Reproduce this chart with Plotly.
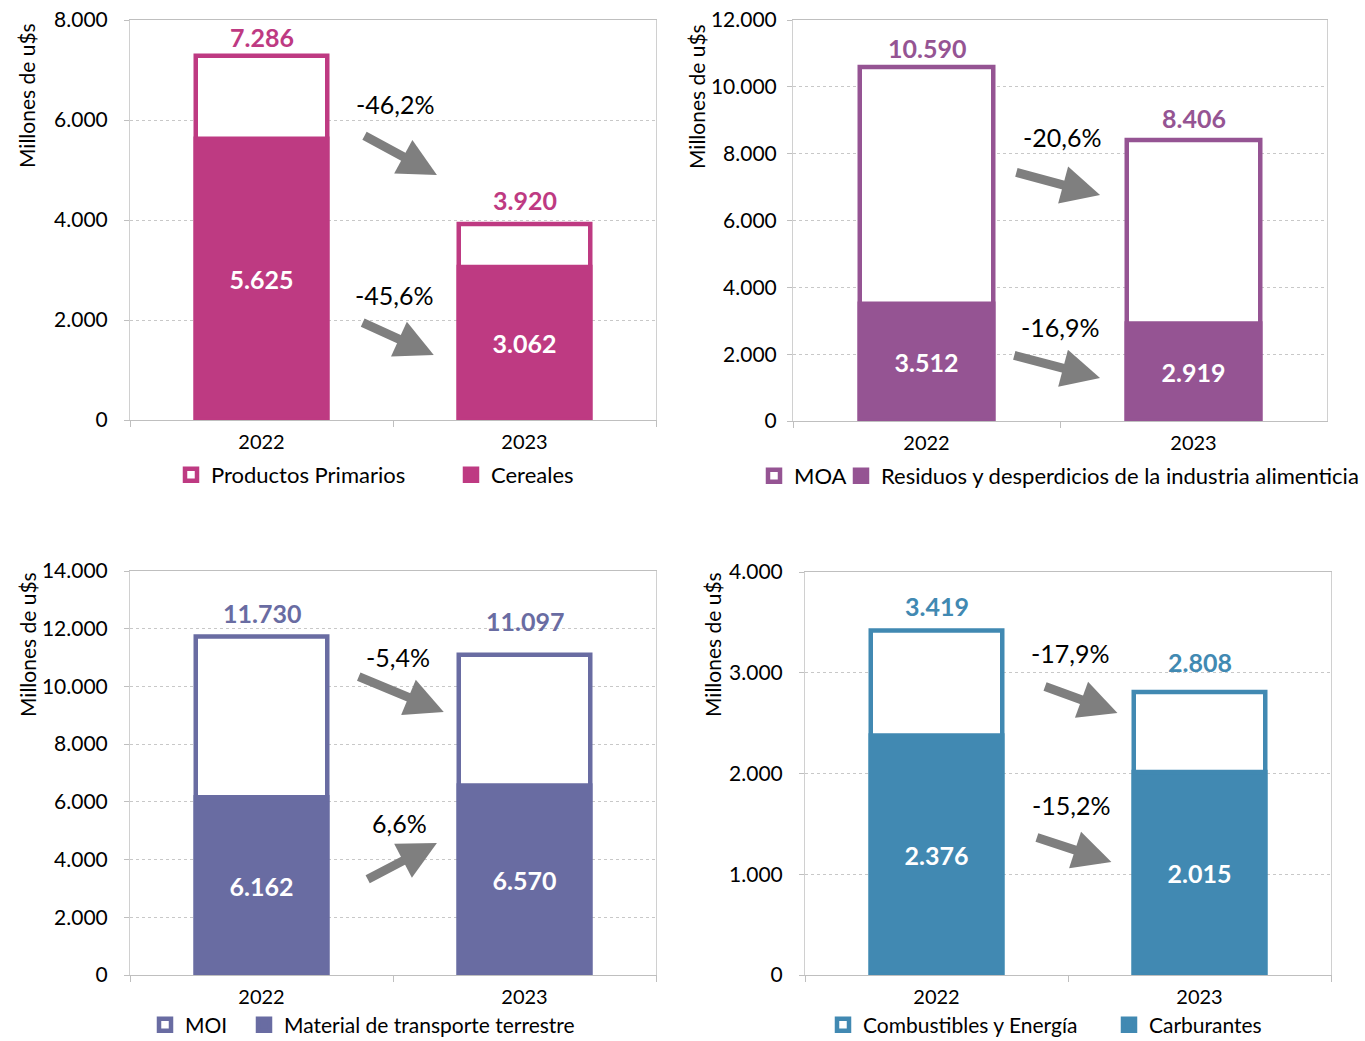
import plotly.graph_objects as go

years = ["2022", "2023"]

# Panel 1
p1_total_name = "Productos Primarios"
p1_sub_name = "Cereales"
p1_total = [7286, 3920]
p1_sub = [5625, 3062]
p1_pct_total = "-46,2%"
p1_pct_sub = "-45,6%"

# Panel 2
p2_total_name = "MOA"
p2_sub_name = "Residuos y desperdicios de la industria alimenticia"
p2_total = [10590, 8406]
p2_sub = [3512, 2919]
p2_pct_total = "-20,6%"
p2_pct_sub = "-16,9%"

# Panel 3
p3_total_name = "MOI"
p3_sub_name = "Material de transporte terrestre"
p3_total = [11730, 11097]
p3_sub = [6162, 6570]
p3_pct_total = "-5,4%"
p3_pct_sub = "6,6%"

# Panel 4
p4_total_name = "Combustibles y Energía"
p4_sub_name = "Carburantes"
p4_total = [3419, 2808]
p4_sub = [2376, 2015]
p4_pct_total = "-17,9%"
p4_pct_sub = "-15,2%"

y_title = "Millones de u$s"

FONT = "Lato"
W, H = 1365, 1041


def fmt(v):
    return f"{v:,}".replace(",", ".")


panels = [
    dict(total=p1_total, sub=p1_sub, tn=p1_total_name, sn=p1_sub_name, color="#BE3A82",
         ymax=8000, dtick=2000, px=(130, 656), py=(20, 420), standoff=12,
         pt=p1_pct_total, ps=p1_pct_sub,
         arrows=[((0.386, 5700), (0.667, 4900)), ((0.379, 1960), (0.655, 1300))],
         labels=[(0.511, 6320), (0.504, 2500)],
         tshift=[19, 24], legsize=22,
         title_c=(27, 96), legs=[(190, 475), (470, 475)]),
    dict(total=p2_total, sub=p2_sub, tn=p2_total_name, sn=p2_sub_name, color="#955493",
         ymax=12000, dtick=2000, px=(793, 1327), py=(20, 421), standoff=6,
         pt=p2_pct_total, ps=p2_pct_sub,
         arrows=[((0.331, 7453), (0.65, 6764)), ((0.323, 1975), (0.65, 1287))],
         labels=[(0.51, 8500), (0.502, 2813)],
         tshift=[19, 22], legsize=22,
         title_c=(696, 97), legs=[(773, 476), (860, 476)]),
    dict(total=p3_total, sub=p3_sub, tn=p3_total_name, sn=p3_sub_name, color="#696CA2",
         ymax=14000, dtick=2000, px=(130, 656), py=(571, 975), standoff=12,
         pt=p3_pct_total, ps=p3_pct_sub,
         arrows=[((0.364, 10360), (0.693, 9113)), ((0.398, 3292), (0.667, 4574))],
         labels=[(0.519, 11019), (0.523, 5267)],
         tshift=[24, 34], legsize=21,
         title_c=(27, 645), legs=[(164, 1025), (263, 1025)]),
    dict(total=p4_total, sub=p4_sub, tn=p4_total_name, sn=p4_sub_name, color="#4189B2",
         ymax=4000, dtick=1000, px=(805, 1331), py=(572, 975), standoff=12,
         pt=p4_pct_total, ps=p4_pct_sub,
         arrows=[((0.407, 2869), (0.688, 2601)), ((0.376, 1370), (0.665, 1122))],
         labels=[(0.51, 3196), (0.513, 1687)],
         tshift=[25, 30], legsize=21,
         title_c=(712, 645), legs=[(842, 1025), (1128, 1025)]),
]

fig = go.Figure()
layout = {}
annotations = []
leg_n = 0

for i, p in enumerate(panels, start=1):
    sfx = "" if i == 1 else str(i)
    xa, ya = f"x{sfx}", f"y{sfx}"
    c = p["color"]
    leg_names = []
    for k in range(2):
        leg_n += 1
        leg_names.append("legend" if leg_n == 1 else f"legend{leg_n}")
    fig.add_trace(go.Bar(
        x=years, y=p["total"], name=p["tn"], xaxis=xa, yaxis=ya, legend=leg_names[0],
        marker=dict(color="white", line=dict(color=c, width=4.5)), width=0.5,
        hoverinfo="skip",
    ))
    fig.add_trace(go.Bar(
        x=years, y=p["sub"], name=p["sn"], xaxis=xa, yaxis=ya, legend=leg_names[1],
        marker=dict(color=c, line=dict(color=c, width=4.5)), width=0.5,
        text=[fmt(v) for v in p["sub"]], textposition="inside", insidetextanchor="middle",
        textfont=dict(family=FONT, size=25, color="white", weight="bold"),
        hoverinfo="skip",
    ))
    for idx, (v, sh) in enumerate(zip(p["total"], p["tshift"])):
        annotations.append(dict(
            x=idx, y=v, xref=xa, yref=ya, text=f"<b>{fmt(v)}</b>", showarrow=False,
            yanchor="middle", yshift=sh, font=dict(family=FONT, size=25, color=c),
        ))
    x0, x1 = p["px"]
    y0, y1 = p["py"]
    layout[f"xaxis{sfx}"] = dict(
        domain=[x0 / W, x1 / W], anchor=ya, type="category", range=[-0.5, 1.5],
        tickson="boundaries", ticks="outside", ticklen=6, tickcolor="#BFBFBF",
        showline=True, linecolor="#BFBFBF", linewidth=1, mirror=True,
        showgrid=False, tickfont=dict(family=FONT, size=20, color="#000"),
        automargin=False, ticklabelstandoff=4,
    )
    layout[f"yaxis{sfx}"] = dict(
        domain=[1 - y1 / H, 1 - y0 / H], anchor=xa, range=[0, p["ymax"]], dtick=p["dtick"],
        tickformat=",d", ticks="outside", ticklen=5, tickcolor="#BFBFBF",
        showline=True, linecolor="#D0D0D0", linewidth=1, mirror=True,
        showgrid=True, gridcolor="#C8C8C8", griddash="dot", gridwidth=1,
        zeroline=False, tickfont=dict(family=FONT, size=21, color="#000"),
        ticklabelstandoff=p["standoff"], automargin=False,
    )
    for (tail, head) in p["arrows"]:
        annotations.append(dict(
            x=head[0], y=head[1], ax=tail[0], ay=tail[1], xref=xa, yref=ya,
            axref=xa, ayref=ya, showarrow=True, arrowhead=2, arrowsize=0.85,
            arrowwidth=9, arrowcolor="#7F7F7F", text="",
        ))
    for (lx, ly), t in zip(p["labels"], [p["pt"], p["ps"]]):
        annotations.append(dict(
            x=lx, y=ly, xref=xa, yref=ya, text=t, showarrow=False,
            font=dict(family=FONT, size=25, color="#000"),
        ))
    annotations.append(dict(
        x=p["title_c"][0] / W, y=1 - p["title_c"][1] / H, xref="paper", yref="paper",
        text=y_title, textangle=-90, showarrow=False, xanchor="center", yanchor="middle",
        font=dict(family=FONT, size=21, color="#000"),
    ))
    for ln, (lxp, lyp) in zip(leg_names, p["legs"]):
        layout[ln] = dict(
            orientation="h", x=(lxp - 19) / W, y=1 - lyp / H, xanchor="left",
            yanchor="middle", font=dict(family=FONT, size=p["legsize"], color="#000"),
            itemwidth=30, bgcolor="rgba(0,0,0,0)",
        )

fig.update_layout(
    **layout,
    annotations=annotations,
    barmode="overlay",
    width=W, height=H,
    margin=dict(l=0, r=0, t=0, b=0, autoexpand=False),
    paper_bgcolor="white", plot_bgcolor="white",
    separators=",.",
    font=dict(family=FONT),
    showlegend=True,
)

fig.write_html("out.html", config={"displayModeBar": False},
               post_script="document.body.style.margin='0px';")
